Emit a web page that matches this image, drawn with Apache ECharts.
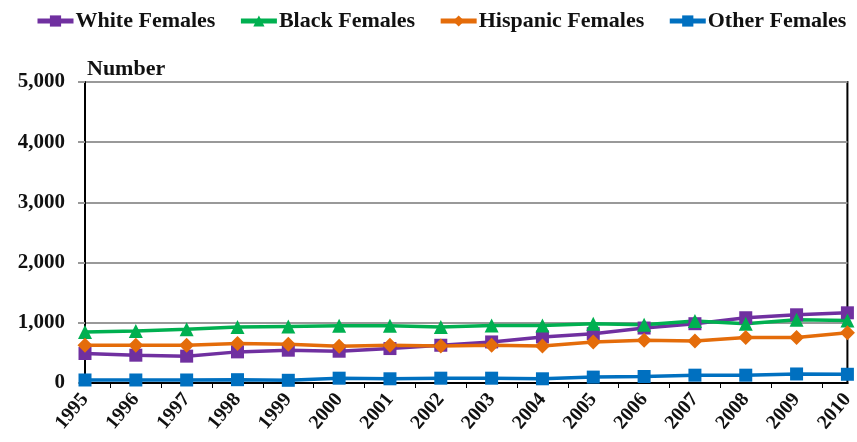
<!DOCTYPE html>
<html>
<head>
<meta charset="utf-8">
<script src="https://cdn.jsdelivr.net/npm/echarts@6/dist/echarts.min.js"></script>
<style>
html,body{margin:0;padding:0;background:#fff;}
#chart{width:857px;height:442px;}
</style>
</head>
<body>
<div id="chart"></div>
<script>
const years = ['1995','1996','1997','1998','1999','2000','2001','2002','2003','2004','2005','2006','2007','2008','2009','2010'];
const whiteFemales = [490, 462, 446, 517, 545, 528, 572, 627, 682, 765, 820, 913, 985, 1084, 1133, 1166];
const blackFemales = [846, 863, 891, 929, 940, 951, 950, 929, 957, 957, 985, 968, 1028, 985, 1051, 1040];
const hispanicFemales = [627, 627, 627, 655, 644, 610, 627, 616, 627, 616, 682, 710, 698, 754, 754, 834];
const otherFemales = [50, 50, 50, 55, 45, 80, 70, 80, 80, 70, 98, 108, 130, 130, 150, 145];
const yTicks = [0, 1000, 2000, 3000, 4000, 5000];

const FONT = 'Liberation Serif';
const chart = echarts.init(document.getElementById('chart'), null, {renderer: 'canvas'});

const midTicks = [];
for (let i = 0; i < years.length - 1; i++) midTicks.push(i + 0.5);

function mk(name, data, color, symbol, size) {
  return {
    name: name, type: 'line', data: data,
    symbol: symbol, symbolSize: size, showSymbol: true,
    lineStyle: {color: color, width: 3.5},
    itemStyle: {color: color},
    xAxisIndex: 0, yAxisIndex: 0,
    animation: false, z: 3
  };
}

chart.setOption({
  animation: false,
  backgroundColor: '#fff',
  title: {
    text: 'Number', left: 82, top: 53,
    textStyle: {fontFamily: FONT, fontWeight: 'bold', fontSize: 22, color: '#111'}
  },
  legend: {
    top: 10, left: 35, width: 822, padding: 0,
    itemWidth: 36, itemHeight: 14, itemGap: 23,
    lineStyle: {width: 5},
    textStyle: {fontFamily: FONT, fontWeight: 'bold', fontSize: 22, color: '#111', padding: [0, 0, 0, -3]},
    data: ['White Females', 'Black Females', 'Hispanic Females', 'Other Females']
  },
  grid: {
    left: 85, right: 9, top: 82, bottom: 59,
    show: true, borderColor: '#000', borderWidth: 2, containLabel: false
  },
  xAxis: [{
    type: 'category', data: years, boundaryGap: false,
    axisLine: {lineStyle: {color: '#000', width: 2}},
    axisTick: {show: false},
    axisLabel: {
      rotate: 50, margin: 13, interval: 0,
      fontFamily: FONT, fontWeight: 'bold', fontSize: 20, color: '#111'
    },
    splitLine: {show: false}
  }, {
    type: 'value', min: 0, max: 15, position: 'bottom',
    axisLine: {show: false},
    axisLabel: {show: false},
    splitLine: {show: false},
    axisTick: {show: true, customValues: midTicks, length: 5, inside: false, lineStyle: {color: '#000', width: 1}}
  }],
  yAxis: {
    type: 'value', min: 0, max: 5000, interval: 1000,
    axisLine: {show: true, lineStyle: {color: '#000', width: 2}},
    axisTick: {show: true, length: 7, lineStyle: {color: '#999', width: 2}},
    axisLabel: {
      margin: 20,
      fontFamily: FONT, fontWeight: 'bold', fontSize: 21, color: '#111',
      formatter: function (v) { return yTicks.indexOf(v) >= 0 ? v.toLocaleString('en-US') : ''; }
    },
    splitLine: {show: true, lineStyle: {color: '#999', width: 2}}
  },
  series: [
    mk('White Females', whiteFemales, '#7030A0', 'rect', 13),
    mk('Black Females', blackFemales, '#00B050', 'triangle', 14),
    mk('Hispanic Females', hispanicFemales, '#E46C0A', 'diamond', 15),
    mk('Other Females', otherFemales, '#0070C0', 'rect', 13)
  ]
});
</script>
</body>
</html>
